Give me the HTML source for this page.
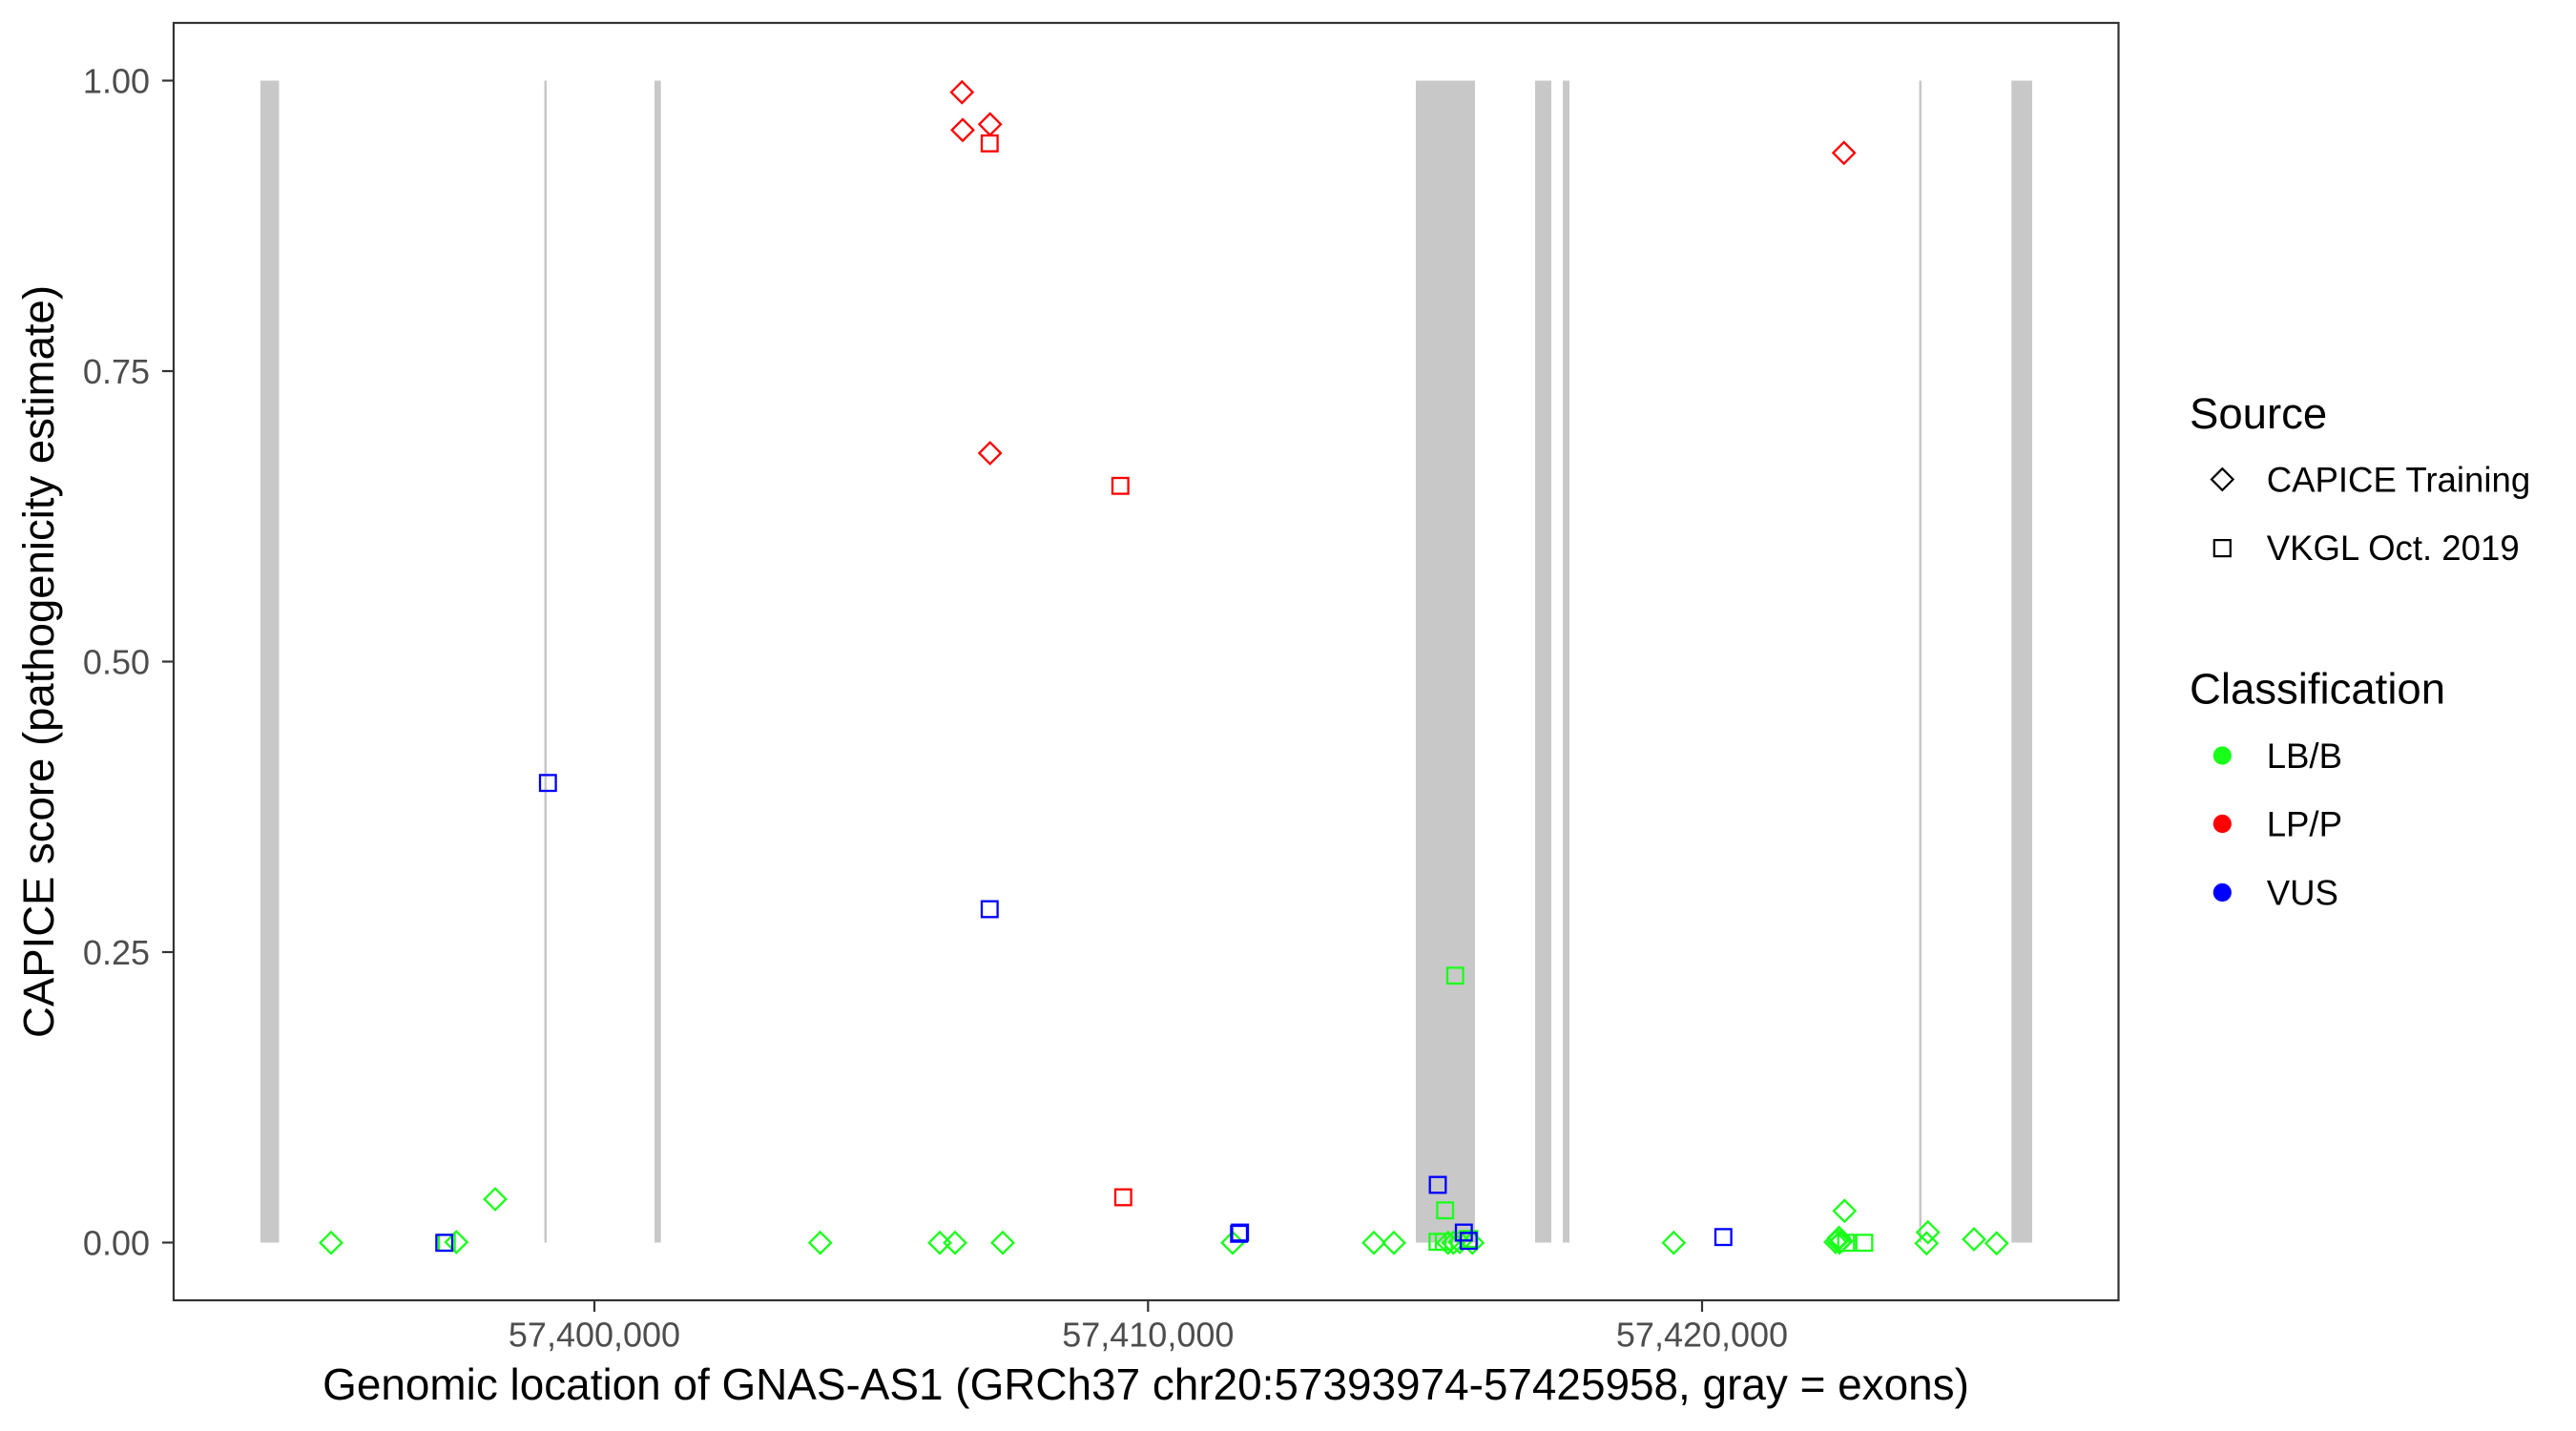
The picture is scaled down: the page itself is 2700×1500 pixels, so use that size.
<!DOCTYPE html>
<html>
<head>
<meta charset="utf-8">
<style>
  html,body{margin:0;padding:0;background:#fff;}
  svg{display:block;}
  text{font-family:"Liberation Sans", Arial, sans-serif;}
</style>
</head>
<body>
<svg width="2700" height="1500" viewBox="0 0 2700 1500" xmlns="http://www.w3.org/2000/svg">
  <rect x="0" y="0" width="2700" height="1500" fill="#ffffff"/>
  <defs>
    <path id="dm" d="M0,-11.3 L11.3,0 L0,11.3 L-11.3,0 Z" fill="none" stroke-width="2.3"/>
    <rect id="sq" x="-8.3" y="-8.3" width="16.6" height="16.6" fill="none" stroke-width="2.3"/>
  </defs>

  <!-- exons -->
  <g fill="#c8c8c8">
    <rect x="273" y="84.5" width="19.5" height="1218"/>
    <rect x="570.5" y="84.5" width="2.6" height="1218"/>
    <rect x="686" y="84.5" width="6.7" height="1218"/>
    <rect x="1484" y="84.5" width="62" height="1218"/>
    <rect x="1609" y="84.5" width="17" height="1218"/>
    <rect x="1638" y="84.5" width="7" height="1218"/>
    <rect x="2011.5" y="84.5" width="2.6" height="1218"/>
    <rect x="2108.3" y="84.5" width="21.7" height="1218"/>
  </g>

  <!-- green points (LB/B) -->
  <g stroke="#1aff1a">
    <use href="#dm" x="347" y="1302.7"/>
    <use href="#sq" x="468.3" y="1302.7"/>
    <use href="#dm" x="478.3" y="1302"/>
    <use href="#dm" x="519" y="1257"/>
    <use href="#dm" x="859.7" y="1302.7"/>
    <use href="#dm" x="985" y="1302.7"/>
    <use href="#dm" x="1001" y="1302.7"/>
    <use href="#dm" x="1051" y="1302.7"/>
    <use href="#dm" x="1292" y="1302.7"/>
    <use href="#dm" x="1440" y="1302.7"/>
    <use href="#dm" x="1461" y="1302.7"/>
    <use href="#sq" x="1525.3" y="1022.7"/>
    <use href="#sq" x="1514.7" y="1268.7"/>
    <use href="#sq" x="1506.7" y="1301.7"/>
    <use href="#sq" x="1513.3" y="1301.7"/>
    <use href="#dm" x="1517.7" y="1302.7"/>
    <use href="#dm" x="1523.3" y="1302.7"/>
    <use href="#dm" x="1530" y="1302"/>
    <use href="#sq" x="1540" y="1298.7"/>
    <use href="#dm" x="1543.3" y="1302.7"/>
    <use href="#dm" x="1754.3" y="1302.7"/>
    <use href="#dm" x="1933.3" y="1269.3"/>
    <use href="#dm" x="1924" y="1302"/>
    <use href="#dm" x="1926" y="1300"/>
    <use href="#dm" x="1928" y="1302.5"/>
    <use href="#dm" x="1927.5" y="1297.5"/>
    <use href="#dm" x="1930" y="1301"/>
    <use href="#sq" x="1935" y="1302.7"/>
    <use href="#sq" x="1954" y="1302.7"/>
    <use href="#dm" x="2020.7" y="1291.7"/>
    <use href="#dm" x="2019.3" y="1303.3"/>
    <use href="#dm" x="2069" y="1299"/>
    <use href="#dm" x="2092.7" y="1303.3"/>
  </g>

  <!-- blue points (VUS) -->
  <g stroke="#0000ff">
    <use href="#sq" x="574.3" y="820.7"/>
    <use href="#sq" x="1037.3" y="953"/>
    <use href="#sq" x="465.7" y="1302.7"/>
    <use href="#sq" x="1298.7" y="1293.3"/>
    <use href="#sq" x="1299.7" y="1292"/>
    <use href="#sq" x="1507" y="1242"/>
    <use href="#sq" x="1534.3" y="1292"/>
    <use href="#sq" x="1539.3" y="1300.7"/>
    <use href="#sq" x="1806.3" y="1296.7"/>
  </g>

  <!-- red points (LP/P) -->
  <g stroke="#ff0000">
    <use href="#dm" x="1008.3" y="96.7"/>
    <use href="#dm" x="1009" y="136.3"/>
    <use href="#dm" x="1037.7" y="130.3"/>
    <use href="#sq" x="1037.3" y="150.3"/>
    <use href="#dm" x="1037.7" y="475"/>
    <use href="#sq" x="1174.3" y="509.3"/>
    <use href="#sq" x="1177.3" y="1255"/>
    <use href="#dm" x="1932.7" y="160.3"/>
  </g>

  <!-- panel border -->
  <rect x="182" y="24" width="2038.5" height="1339" fill="none" stroke="#333333" stroke-width="2.2"/>

  <!-- ticks -->
  <g stroke="#333333" stroke-width="2.2">
    <line x1="170" y1="84.5" x2="182" y2="84.5"/>
    <line x1="170" y1="389" x2="182" y2="389"/>
    <line x1="170" y1="693.5" x2="182" y2="693.5"/>
    <line x1="170" y1="998" x2="182" y2="998"/>
    <line x1="170" y1="1302.5" x2="182" y2="1302.5"/>
    <line x1="623" y1="1363" x2="623" y2="1375"/>
    <line x1="1203.3" y1="1363" x2="1203.3" y2="1375"/>
    <line x1="1784" y1="1363" x2="1784" y2="1375"/>
  </g>
  <g fill="#4d4d4d" font-size="36" text-anchor="end">
    <text x="157" y="97.5">1.00</text>
    <text x="157" y="402">0.75</text>
    <text x="157" y="706.5">0.50</text>
    <text x="157" y="1011">0.25</text>
    <text x="157" y="1315.5">0.00</text>
  </g>
  <g fill="#4d4d4d" font-size="36" text-anchor="middle">
    <text x="623" y="1411.5">57,400,000</text>
    <text x="1203.3" y="1411.5">57,410,000</text>
    <text x="1784" y="1411.5">57,420,000</text>
  </g>

  <!-- axis titles -->
  <text x="1201" y="1467" font-size="45.9" text-anchor="middle" fill="#000">Genomic location of GNAS-AS1 (GRCh37 chr20:57393974-57425958, gray = exons)</text>
  <text transform="translate(56,693.5) rotate(-90)" font-size="45.5" text-anchor="middle" fill="#000">CAPICE score (pathogenicity estimate)</text>

  <!-- legend -->
  <text x="2295" y="449" font-size="45.5" fill="#000">Source</text>
  <path d="M2329.3,491.2 L2340.6,502.5 L2329.3,513.8 L2318,502.5 Z" fill="none" stroke="#000" stroke-width="2.2"/>
  <text x="2375.7" y="515.7" font-size="36.6" fill="#000">CAPICE Training</text>
  <rect x="2320.8" y="566.1" width="17" height="17" fill="none" stroke="#000" stroke-width="2.2"/>
  <text x="2375.7" y="587" font-size="36.6" fill="#000">VKGL Oct. 2019</text>

  <text x="2295" y="737.3" font-size="45.5" fill="#000">Classification</text>
  <circle cx="2329.3" cy="792" r="9.6" fill="#1aff1a"/>
  <text x="2375.7" y="805" font-size="36.6" fill="#000">LB/B</text>
  <circle cx="2329.3" cy="863.5" r="9.6" fill="#ff0000"/>
  <text x="2375.7" y="876.7" font-size="36.6" fill="#000">LP/P</text>
  <circle cx="2329.3" cy="935.5" r="9.6" fill="#0000ff"/>
  <text x="2375.7" y="948.5" font-size="36.6" fill="#000">VUS</text>
</svg>
</body>
</html>
